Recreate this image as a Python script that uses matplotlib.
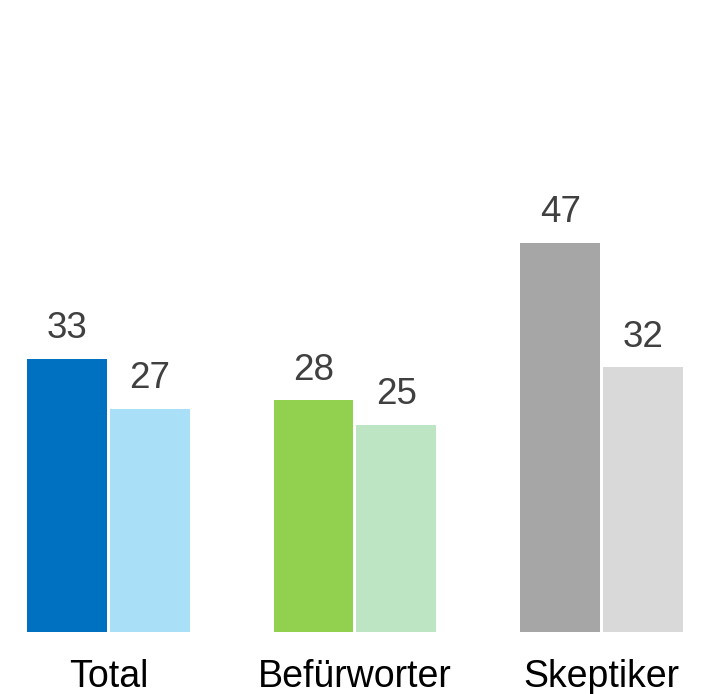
import matplotlib.pyplot as plt
import numpy as np

plt.rcParams['font.family'] = ['Liberation Sans', 'DejaVu Sans']

categories = ['Total', 'Befürworter', 'Skeptiker']
values_a = [33, 28, 47]
values_b = [27, 25, 32]
colors_a = ['#0070C0', '#92D050', '#A6A6A6']
colors_b = ['#A9DFF7', '#BDE5C4', '#D9D9D9']

px = 1 / 247.0  # data units per pixel along x
x = np.arange(len(categories))
offset = 41.5 * px
width = 80 * px

fig = plt.figure(figsize=(7.02, 6.94), dpi=100)
ax = fig.add_axes([0, 1 - 632 / 694, 1, 632 / 694])

bars_a = ax.bar(x - offset, values_a, width, color=colors_a)
bars_b = ax.bar(x + offset, values_b, width, color=colors_b)

ax.set_xlim(-108.5 * px, 2 + 100.5 * px)
ax.set_ylim(0, 632 / 8.27)
ax.axis('off')

# value labels above the bars
for bars in (bars_a, bars_b):
    for b in bars:
        ax.annotate(f'{b.get_height():.0f}', (b.get_x() + b.get_width() / 2, b.get_height()),
                    xytext=(0, 15), textcoords='offset points',
                    ha='center', va='baseline', fontsize=26.5, color='#404040')

# category labels below
for i, cat in enumerate(categories):
    ax.annotate(cat, (i, 0), xytext=(0, -39.5), textcoords='offset points',
                ha='center', va='baseline', fontsize=27, color='black',
                annotation_clip=False)

plt.savefig('out.png', dpi=100)
